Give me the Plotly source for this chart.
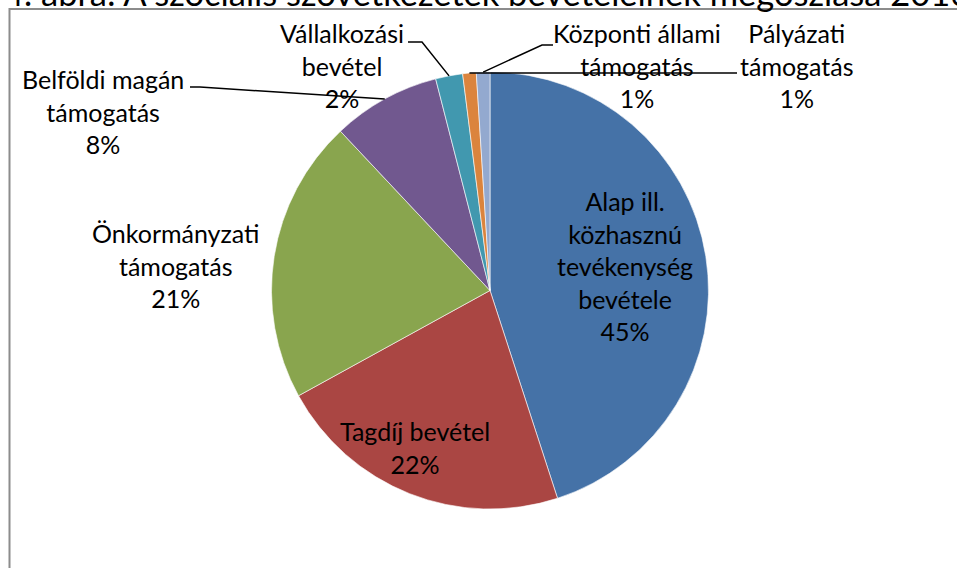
import math
import plotly.graph_objects as go

W, H = 957, 568

# ---- data ----
categories = [
    "Alap ill.<br>közhasznú<br>tevékenység<br>bevétele",
    "Tagdíj bevétel",
    "Önkormányzati<br>támogatás",
    "Belföldi magán<br>támogatás",
    "Vállalkozási<br>bevétel",
    "Központi állami<br>támogatás",
    "Pályázati<br>támogatás",
]
values = [45, 22, 21, 8, 2, 1, 1]
colors = ["#4572A7", "#AA4643", "#89A54E", "#71588F", "#4198AF", "#DB843D", "#93A9CF"]
title_text = "4. ábra: A szociális szövetkezetek bevételeinek megoszlása 2016"

# ---- layout constants (pixels) ----
CX, CY, R = 490, 290.5, 218.5
label_pos = [(625, 266), (415, 448), (175, 265), (103, 111), (342, 66), (637, 66), (797, 66)]
FONT = "Lato"


def px(x):
    return x / W


def py(y):
    return 1 - y / H


def slice_mid(i):
    total = sum(values)
    start = sum(values[:i]) / total
    frac = (start + values[i] / total / 2) * 2 * math.pi
    return CX + R * math.sin(frac), CY - R * math.cos(frac)


fig = go.Figure(
    go.Pie(
        labels=[c.replace("<br>", " ") for c in categories],
        values=values,
        sort=False,
        direction="clockwise",
        rotation=0,
        marker=dict(colors=colors, line=dict(color="white", width=0.6)),
        textinfo="none",
        hoverinfo="skip",
        showlegend=False,
        domain=dict(x=[px(CX - R), px(CX + R)], y=[py(CY + R), py(CY - R)]),
    )
)

annotations = []
for i, (lx, ly) in enumerate(label_pos):
    annotations.append(
        dict(
            x=px(lx), y=py(ly), xref="paper", yref="paper",
            text=f"{categories[i]}<br>{values[i]}%",
            showarrow=False, xanchor="center", yanchor="middle", align="center",
            font=dict(family=FONT, size=25, color="black"),
        )
    )

annotations.append(
    dict(
        x=px(2), y=py(15), xref="paper", yref="paper",
        text=title_text, showarrow=False, xanchor="left", yanchor="bottom",
        font=dict(family=FONT, size=34.5, color="black"),
    )
)

shapes = [
    dict(type="rect", xref="paper", yref="paper",
         x0=px(9.5), x1=px(W + 20), y0=py(9), y1=py(H + 20),
         line=dict(color="#8C8C8C", width=2), fillcolor="rgba(0,0,0,0)"),
]


def path(points):
    d = "M " + " L ".join(f"{px(x)} {py(y)}" for x, y in points)
    return dict(type="path", xref="paper", yref="paper", path=d,
                line=dict(color="black", width=1.5))


bx, by = slice_mid(3)
shapes.append(path([(190, 87), (200, 87), (bx, by)]))
vx, vy = slice_mid(4)
shapes.append(path([(408, 42), (422, 42), (vx, vy)]))
kx, ky = slice_mid(6)
shapes.append(path([(553, 45), (542, 45), (kx, ky)]))
ox, oy = slice_mid(5)
shapes.append(path([(ox, oy), (737, oy)]))

fig.update_layout(
    width=W, height=H,
    margin=dict(l=0, r=0, t=0, b=0),
    paper_bgcolor="white",
    annotations=annotations,
    shapes=shapes,
)

fig.write_html(
    "out.html",
    config={"displayModeBar": False, "staticPlot": True},
    post_script="document.body.style.margin='0';document.body.style.overflow='hidden';",
)
